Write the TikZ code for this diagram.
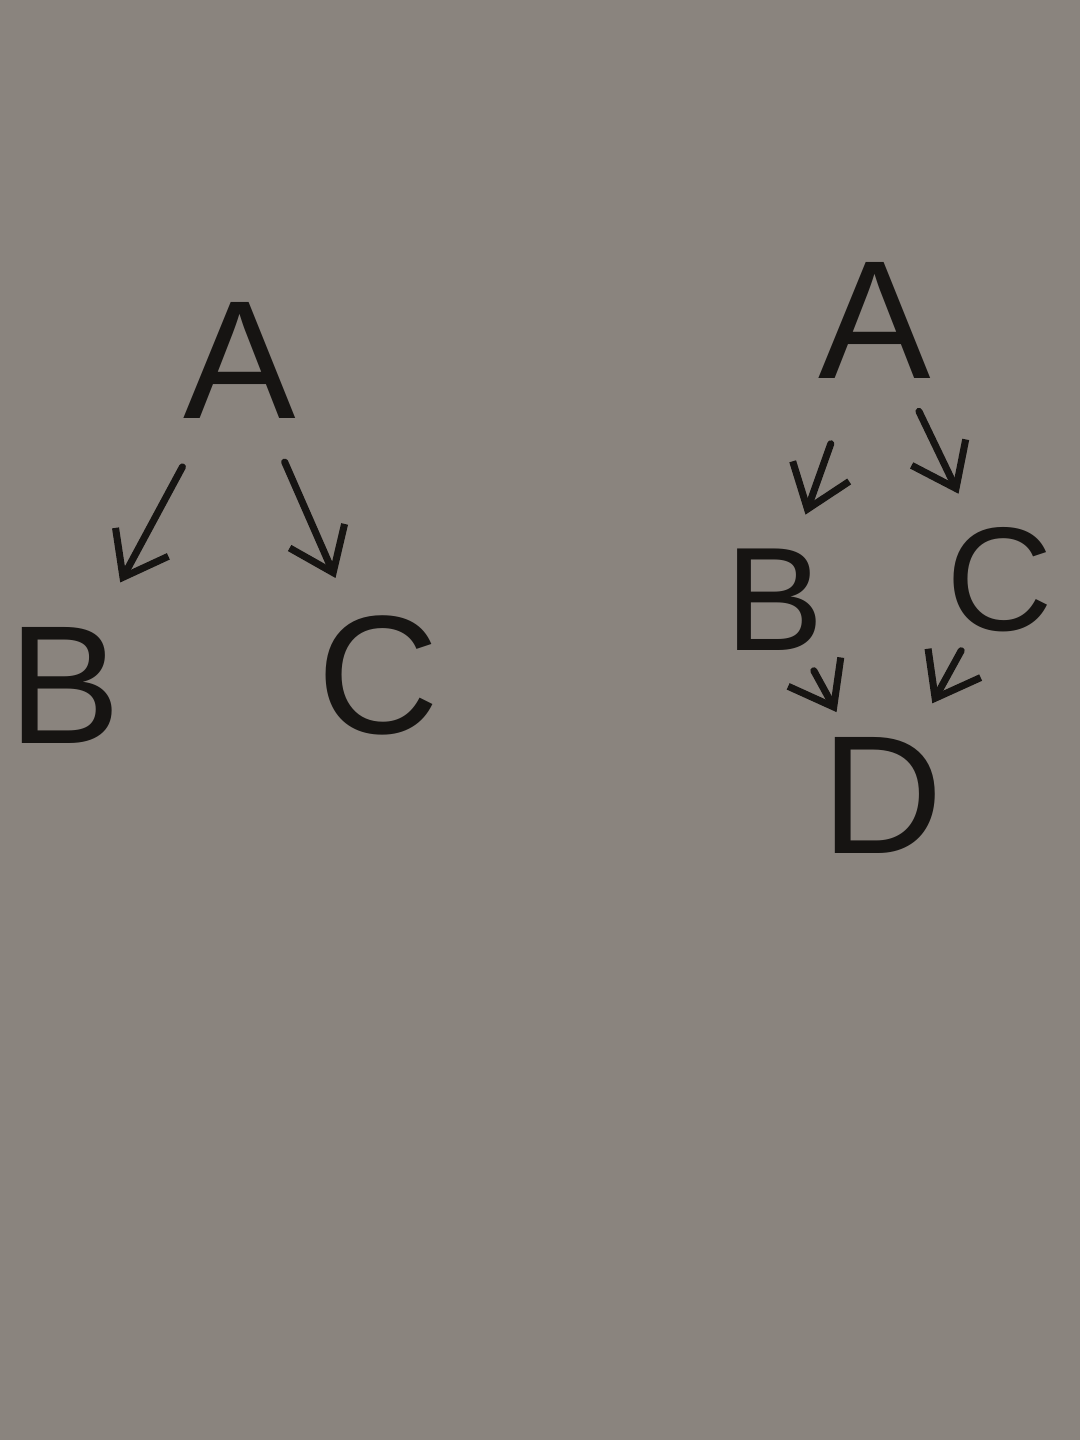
\documentclass[tikz,border=0pt]{standalone}
\usepackage{fontspec}
\setmainfont{Liberation Sans}
\usetikzlibrary{arrows.meta}
\definecolor{paper}{RGB}{138,132,126}
\definecolor{ink}{RGB}{22,20,18}
\tikzset{
  letter/.style={circle,minimum size=1.6cm,inner sep=0pt,text=ink,font=\fontsize{48}{52}\selectfont},
  smallletter/.style={letter,font=\fontsize{42}{46}\selectfont},
  edge/.style={draw=ink,line width=2pt,line cap=round,-{Straight Barb[length=4mm,width=6mm,line width=2pt]}}
}
\begin{document}
\begin{tikzpicture}
\fill[paper] (0,0) rectangle (10.8,14.4);
\useasboundingbox (0,0) rectangle (10.8,14.4);

\node[letter] (lA) at (2.40,10.80) {A};
\node[letter] (lB) at (0.65,7.55) {B};
\node[letter] (lC) at (3.78,7.65) {C};

\draw[edge,shorten <=4mm,shorten >=3.5mm] (lA) -- (lB);
\draw[edge,shorten <=3mm,shorten >=2mm] (lA) -- (lC);

\node[letter] (rA) at (8.75,11.20) {A};
\node[smallletter] (rB) at (7.75,8.40) {B};
\node[smallletter] (rC) at (10.00,8.60) {C};
\node[letter] (rD) at (8.82,6.45) {D};

\draw[edge,shorten <=5mm,shorten >=1mm] (rA) -- (rB);
\draw[edge,shorten <=2mm,shorten >=1.5mm] (rA) -- (rC);
\draw[edge,shorten <=0mm,shorten >=1mm] (rB) -- (rD);
\draw[edge,shorten <=0mm,shorten >=2mm] (rC) -- (rD);

\end{tikzpicture}
\end{document}
